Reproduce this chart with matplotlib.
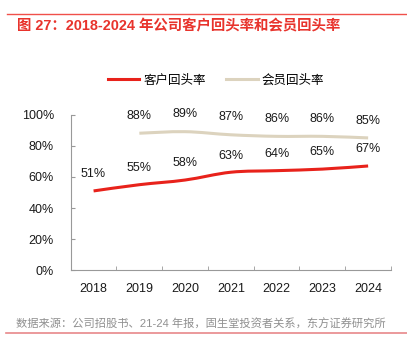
import numpy as np
import matplotlib
matplotlib.use('Agg')
import matplotlib.pyplot as plt
from matplotlib.path import Path
from matplotlib.patches import PathPatch
from matplotlib.lines import Line2D

plt.rcParams['font.family'] = ['Liberation Sans', 'Noto Sans CJK SC', 'DejaVu Sans']

years = ['2018', '2019', '2020', '2021', '2022', '2023', '2024']
customer_rate = [51, 55, 58, 63, 64, 65, 67]
member_rate = [None, 88, 89, 87, 86, 86, 85]
customer_name = '客户回头率'
member_name = '会员回头率'
title = '图 27：2018-2024 年公司客户回头率和会员回头率'
source = '数据来源：公司招股书、21-24 年报，固生堂投资者关系，东方证券研究所'

red = '#E8221B'
beige = '#DCD3BE'


def smooth_path(xs, ys):
    # Catmull-Rom style bezier through the points (like Excel smoothed line)
    pts = np.column_stack([xs, ys]).astype(float)
    verts = [pts[0]]
    codes = [Path.MOVETO]
    n = len(pts)
    for i in range(n - 1):
        p0 = pts[i - 1] if i > 0 else pts[i]
        p1 = pts[i]
        p2 = pts[i + 1]
        p3 = pts[i + 2] if i + 2 < n else pts[i + 1]
        c1 = p1 + (p2 - p0) / 6.0
        c2 = p2 - (p3 - p1) / 6.0
        verts += [c1, c2, p2]
        codes += [Path.CURVE4] * 3
    return Path(verts, codes)


fig = plt.figure(figsize=(4.07, 3.47), dpi=100)
ax = fig.add_axes([0.1737, 0.2205, 0.787, 0.4495])

x = np.arange(len(years))
cy = np.array(customer_rate, dtype=float) / 100
mx = np.array([i for i, v in enumerate(member_rate) if v is not None])
my = np.array([v for v in member_rate if v is not None], dtype=float) / 100

ax.add_patch(PathPatch(smooth_path(mx, my), fill=False, edgecolor=beige, lw=2.2, capstyle='butt'))
ax.add_patch(PathPatch(smooth_path(x, cy), fill=False, edgecolor=red, lw=2.2, capstyle='butt'))

for xi, v in zip(x, customer_rate):
    ax.annotate(f'{v}%', (xi, v / 100), xytext=(0, 12), textcoords='offset points',
                ha='center', va='center', fontsize=9, color='#1a1a1a')
for xi, v in zip(mx, my):
    ax.annotate(f'{round(v * 100)}%', (xi, v), xytext=(0, 12.5), textcoords='offset points',
                ha='center', va='center', fontsize=9, color='#1a1a1a')

ax.set_xlim(-0.5, len(years) - 0.5)
ax.set_ylim(0, 1.0)
ax.set_yticks(np.arange(0, 1.01, 0.2))
ax.set_yticklabels([f'{int(round(t * 100))}%' for t in np.arange(0, 1.01, 0.2)])
ax.set_xticks(x)
ax.set_xticklabels(years)
ax.set_xticks(np.arange(-0.5, len(years)), minor=True)
ax.tick_params(axis='x', which='major', length=0, pad=9, labelsize=9, labelcolor='#1a1a1a')
ax.tick_params(axis='x', which='minor', length=3, direction='in', color='#999999')
ax.tick_params(axis='y', length=3, direction='in', color='#999999', pad=12, labelsize=9, labelcolor='#1a1a1a')
for s in ['top', 'right']:
    ax.spines[s].set_visible(False)
for s in ['left', 'bottom']:
    ax.spines[s].set_color('#999999')
    ax.spines[s].set_linewidth(0.8)

handles = [Line2D([], [], color=red, lw=2.2), Line2D([], [], color=beige, lw=2.2)]
fig.legend(handles, [customer_name, member_name], loc='center', bbox_to_anchor=(0.530, 0.768),
           ncol=2, frameon=False, fontsize=9, handlelength=2.55, handletextpad=0.3, columnspacing=1.6)

fig.add_artist(Line2D([7 / 407, 1.0], [1 - 13.7 / 347] * 2, color='#F0504A', lw=1.0))
fig.add_artist(Line2D([6 / 407, 1.0], [1 - 333 / 347] * 2, color='#E8888A', lw=1.2))
fig.text(17 / 407, 1 - 26 / 347, title, color='#E8332C', fontsize=10.4, va='center', ha='left',
         fontweight='bold')
fig.text(16 / 407, 1 - 324 / 347, source, color='#909090', fontsize=8.1, va='center', ha='left')

fig.savefig('out.png', dpi=100, facecolor='white')
